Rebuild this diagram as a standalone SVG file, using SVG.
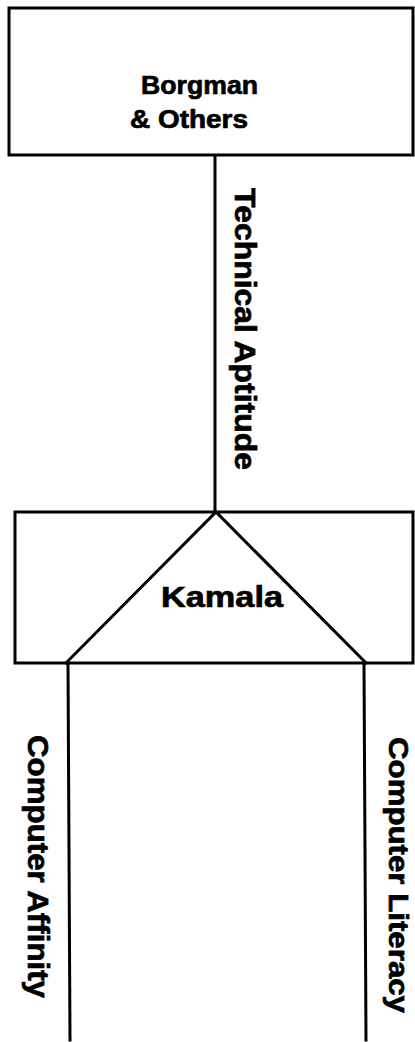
<svg xmlns="http://www.w3.org/2000/svg" width="415" height="1042" viewBox="0 0 415 1042">
<style>
.box{fill:none;stroke:#000;stroke-width:3}
.ln{fill:none;stroke:#000;stroke-width:3;stroke-linecap:square}
.t{font-family:"Liberation Sans",Arial,sans-serif;font-weight:bold;fill:#000;stroke:#000;stroke-width:0.7}
</style>
<rect width="415" height="1042" fill="#fff"/>
<g id="connectors">
<line class="ln" x1="215" y1="156" x2="215" y2="512"/>
<line class="ln" x1="68" y1="664" x2="70" y2="1040"/>
<line class="ln" x1="364" y1="664" x2="366" y2="1040"/>
<text class="t" font-size="30" transform="translate(235,188) rotate(90)" textLength="282" lengthAdjust="spacingAndGlyphs">Technical Aptitude</text>
<text class="t" font-size="30" transform="translate(28,735) rotate(90)" textLength="263" lengthAdjust="spacingAndGlyphs">Computer Affinity</text>
<text class="t" font-size="27" transform="translate(389,737) rotate(90)" textLength="276" lengthAdjust="spacingAndGlyphs">Computer Literacy</text>
</g>
<g id="borgman">
<rect class="box" x="9" y="8" width="404" height="147"/>
<text class="t" font-size="26" x="141" y="94" textLength="117" lengthAdjust="spacingAndGlyphs">Borgman</text>
<text class="t" font-size="26" x="130" y="128" textLength="118" lengthAdjust="spacingAndGlyphs">&amp; Others</text>
</g>
<g id="kamala">
<rect class="box" x="15" y="512" width="398" height="151"/>
<polyline class="ln" points="66,663 216,512 366,663" stroke-linejoin="miter"/>
<text class="t" font-size="30" x="161" y="607" textLength="122" lengthAdjust="spacingAndGlyphs">Kamala</text>
</g>
</svg>
